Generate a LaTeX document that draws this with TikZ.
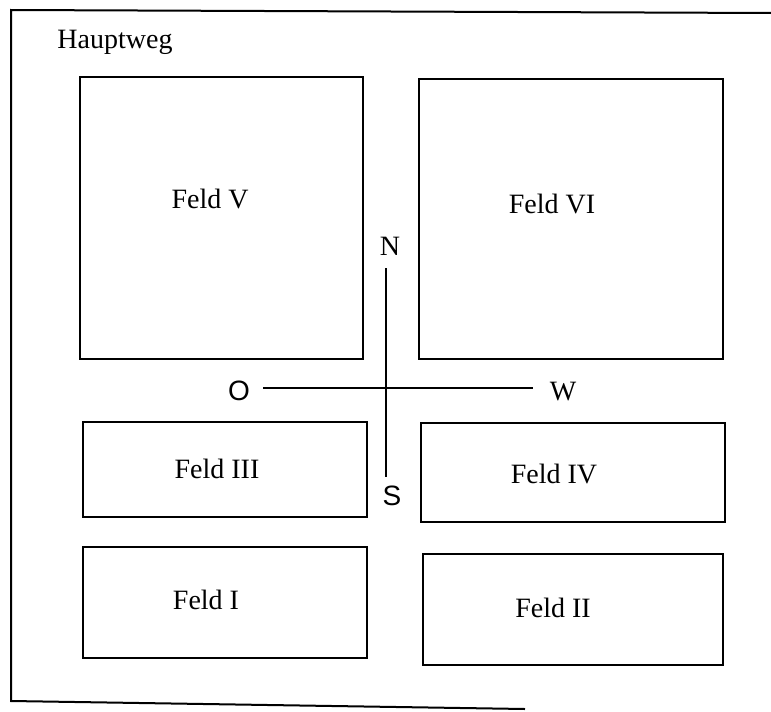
\documentclass[tikz,border=0pt]{standalone}
\usepackage{fontspec}
\setmainfont{Liberation Serif}
\setsansfont{Liberation Sans}
\usetikzlibrary{positioning}

\begin{document}
\begin{tikzpicture}[
    x=1pt, y=-1pt,
    font=\fontsize{28}{30}\selectfont,
    feld/.style={draw, line width=2.2pt},
    lbl/.style={anchor=base, inner sep=0pt},
    himmel/.style={lbl, font=\fontsize{28}{30}\selectfont\sffamily},
    achse/.style={line width=2pt}
]
\useasboundingbox (0,0) rectangle (771,712);
\draw[line width=2pt] (771,13) -- (11,10) -- (11,701) -- (525,709);

\draw[feld] (80,77)  rectangle (363,359);
\draw[feld] (419,79) rectangle (723,359);
\draw[feld] (83,422) rectangle (367,517);
\draw[feld] (421,423) rectangle (725,522);
\draw[feld] (83,547) rectangle (367,658);
\draw[feld] (423,554) rectangle (723,665);

\node[lbl] (weg)   at (115,48)  {Hauptweg};
\node[lbl] (feld5) at (210,208) {Feld V};
\node[lbl] (feld6) at (552,213) {Feld VI};
\node[lbl] (feld3) at (217,478) {Feld III};
\node[lbl] (feld4) at (554,483) {Feld IV};
\node[lbl] (feld1) at (206,609) {Feld I};
\node[lbl] (feld2) at (553,617) {Feld II};

\coordinate (kreuz) at (386,388);
\node[lbl]    (nord) at (390,255) {N};
\node[himmel] (sued) at (392,505) {S};
\node[himmel] (ost)  at (239,400) {O};
\node[lbl]    (west) at (563,400) {W};

\draw[achse, shorten <=13pt, shorten >=8pt] (kreuz |- nord.south) -- (kreuz |- sued.north);
\draw[achse, shorten <=13pt, shorten >=17pt] (kreuz -| ost.east) -- (kreuz -| west.west);
\end{tikzpicture}
\end{document}
